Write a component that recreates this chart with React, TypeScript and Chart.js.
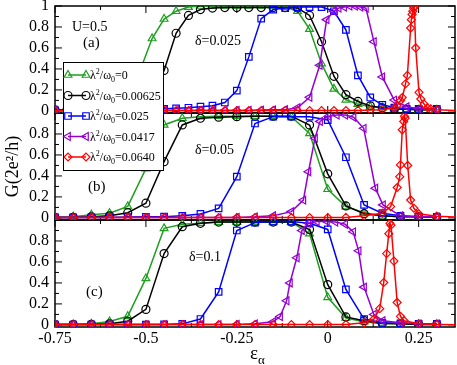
import React, { useEffect, useRef } from 'react';
import { Chart, registerables } from 'chart.js';

Chart.register(...registerables);

const FONT = '"Liberation Serif", "Times New Roman", serif';

// ---- axis ticks ----
const X_TICKS = [-0.75, -0.5, -0.25, 0, 0.25];
const Y_TICKS = [0, 0.2, 0.4, 0.6, 0.8, 1];
const X_MIN = -0.75;
const X_MAX = 0.35;
const Y_MIN = -0.02;
const Y_MAX = 1.0;

// ---- legend ----
const SERIES_VALUES = ['0', '0.00625', '0.025', '0.0417', '0.0640'];

// ---- panel (a), delta = 0.025 ----
const A_X = [-0.75, -0.717, -0.683, -0.65, -0.617, -0.583, -0.55, -0.517, -0.483, -0.45, -0.417, -0.383, -0.35, -0.317, -0.283, -0.25, -0.217, -0.183, -0.15, -0.117, -0.083, -0.05, -0.017, 0.017, 0.05, 0.083, 0.117, 0.15, 0.183, 0.217, 0.25, 0.3];
const A_GREEN = [0.01, 0.01, 0.01, 0.015, 0.02, 0.03, 0.12, 0.375, 0.69, 0.876, 0.95, 0.99, 1.0, 1.0, 1.0, 1.0, 1.0, 1.0, 1.0, 0.99, 0.95, 0.78, 0.45, 0.21, 0.106, 0.065, 0.04, 0.03, 0.02, 0.015, 0.01, 0.01];
const A_BLACK = [0.01, 0.01, 0.01, 0.01, 0.01, 0.015, 0.03, 0.06, 0.15, 0.386, 0.74, 0.91, 0.966, 0.98, 0.985, 0.985, 0.985, 0.985, 0.985, 0.985, 0.98, 0.91, 0.66, 0.33, 0.155, 0.09, 0.048, 0.03, 0.02, 0.015, 0.01, 0.01];
const A_BLUE = [0.005, 0.005, 0.005, 0.008, 0.01, 0.01, 0.012, 0.015, 0.018, 0.02, 0.025, 0.03, 0.04, 0.05, 0.08, 0.193, 0.515, 0.88, 0.966, 0.98, 0.99, 0.99, 0.99, 0.95, 0.773, 0.338, 0.128, 0.058, 0.032, 0.02, 0.02, 0.02];
const A_PURPLE_X = [-0.75, -0.717, -0.683, -0.65, -0.617, -0.583, -0.55, -0.517, -0.483, -0.45, -0.417, -0.383, -0.35, -0.317, -0.283, -0.25, -0.217, -0.183, -0.15, -0.117, -0.083, -0.05, -0.022, -0.003, 0.017, 0.03, 0.045, 0.06, 0.075, 0.09, 0.105, 0.127, 0.15, 0.183, 0.217, 0.25, 0.3];
const A_PURPLE = [0.005, 0.005, 0.005, 0.005, 0.005, 0.005, 0.005, 0.005, 0.005, 0.005, 0.005, 0.005, 0.005, 0.005, 0.005, 0.005, 0.005, 0.008, 0.01, 0.012, 0.03, 0.13, 0.435, 0.87, 0.95, 0.98, 0.99, 1.0, 1.0, 0.99, 0.98, 0.66, 0.324, 0.103, 0.04, 0.02, 0.01];
const A_RED_X = [-0.75, -0.717, -0.683, -0.65, -0.617, -0.583, -0.55, -0.517, -0.483, -0.45, -0.417, -0.383, -0.35, -0.317, -0.283, -0.25, -0.217, -0.183, -0.15, -0.117, -0.083, -0.05, -0.017, 0.017, 0.05, 0.083, 0.117, 0.15, 0.183, 0.19, 0.2, 0.205, 0.214, 0.219, 0.228, 0.23, 0.232, 0.234, 0.236, 0.238, 0.242, 0.251, 0.256, 0.265, 0.274, 0.283, 0.3, 0.4];
const A_RED = [0.003, 0.003, 0.003, 0.003, 0.003, 0.003, 0.003, 0.003, 0.003, 0.003, 0.003, 0.003, 0.003, 0.003, 0.003, 0.003, 0.003, 0.003, 0.003, 0.003, 0.003, 0.003, 0.003, 0.003, 0.003, 0.005, 0.008, 0.012, 0.03, 0.05, 0.097, 0.128, 0.258, 0.338, 0.79, 0.87, 0.92, 0.95, 0.98, 0.99, 0.6, 0.177, 0.113, 0.065, 0.03, 0.02, 0.01, 0.0];

// ---- panel (b), delta = 0.05 ----
const B_X = [-0.75, -0.7, -0.65, -0.6, -0.55, -0.5, -0.45, -0.4, -0.35, -0.3, -0.25, -0.2, -0.15, -0.1, -0.05, 0, 0.05, 0.1, 0.15, 0.2, 0.25, 0.3];
const B_GREEN = [0.008, 0.012, 0.03, 0.045, 0.11, 0.47, 0.886, 0.95, 0.965, 0.97, 0.97, 0.97, 0.97, 0.965, 0.806, 0.273, 0.108, 0.05, 0.02, 0.01, 0.01, 0.008];
const B_BLACK = [0.005, 0.005, 0.01, 0.02, 0.05, 0.14, 0.536, 0.886, 0.95, 0.96, 0.965, 0.97, 0.97, 0.97, 0.886, 0.42, 0.114, 0.04, 0.02, 0.01, 0.01, 0.008];
const B_BLUE = [0.005, 0.005, 0.005, 0.005, 0.008, 0.01, 0.012, 0.02, 0.038, 0.09, 0.393, 0.9, 0.965, 0.965, 0.965, 0.933, 0.578, 0.124, 0.045, 0.02, 0.01, 0.01];
const B_PURPLE_X = [-0.75, -0.7, -0.65, -0.6, -0.55, -0.5, -0.45, -0.4, -0.35, -0.3, -0.25, -0.2, -0.15, -0.1, -0.067, -0.053, -0.035, -0.021, 0.002, 0.025, 0.048, 0.071, 0.099, 0.131, 0.152, 0.2, 0.25, 0.3];
const B_PURPLE = [0.003, 0.003, 0.003, 0.003, 0.003, 0.003, 0.003, 0.003, 0.003, 0.003, 0.005, 0.01, 0.02, 0.06, 0.17, 0.44, 0.76, 0.92, 0.97, 0.98, 0.98, 0.96, 0.854, 0.283, 0.124, 0.02, 0.01, 0.01];
const B_RED_X = [-0.75, -0.7, -0.65, -0.6, -0.55, -0.5, -0.45, -0.4, -0.35, -0.3, -0.25, -0.2, -0.15, -0.1, -0.05, 0, 0.05, 0.1, 0.15, 0.173, 0.191, 0.198, 0.2, 0.205, 0.209, 0.211, 0.213, 0.22, 0.228, 0.237, 0.25, 0.3, 0.4];
const B_RED = [0.003, 0.003, 0.003, 0.003, 0.003, 0.003, 0.003, 0.003, 0.003, 0.003, 0.003, 0.003, 0.003, 0.003, 0.003, 0.003, 0.005, 0.02, 0.045, 0.108, 0.29, 0.393, 0.505, 0.84, 0.92, 0.97, 0.95, 0.5, 0.171, 0.092, 0.04, 0.015, 0.0];

// ---- panel (c), delta = 0.1 ----
const C_X = [-0.75, -0.7, -0.65, -0.6, -0.55, -0.5, -0.45, -0.4, -0.35, -0.3, -0.25, -0.2, -0.15, -0.1, -0.05, 0, 0.05, 0.1, 0.15, 0.2, 0.25, 0.3];
const C_GREEN = [0.005, 0.005, 0.01, 0.033, 0.082, 0.443, 0.92, 0.96, 0.97, 0.98, 0.98, 0.98, 0.98, 0.98, 0.87, 0.263, 0.066, 0.03, 0.01, 0.01, 0.005, 0.005];
const C_BLACK = [0.003, 0.003, 0.005, 0.01, 0.035, 0.148, 0.68, 0.936, 0.968, 0.98, 0.98, 0.98, 0.98, 0.98, 0.91, 0.384, 0.076, 0.04, 0.015, 0.01, 0.005, 0.005];
const C_BLUE = [0.003, 0.003, 0.003, 0.003, 0.003, 0.003, 0.005, 0.01, 0.056, 0.315, 0.9, 0.975, 0.985, 0.985, 0.968, 0.91, 0.338, 0.056, 0.02, 0.015, 0.01, 0.01];
const C_PURPLE_X = [-0.75, -0.7, -0.65, -0.6, -0.55, -0.5, -0.45, -0.4, -0.35, -0.3, -0.25, -0.2, -0.15, -0.131, -0.113, -0.104, -0.085, -0.071, -0.053, -0.03, -0.002, 0.021, 0.048, 0.07, 0.085, 0.1, 0.127, 0.151, 0.2, 0.25, 0.3];
const C_PURPLE = [0.003, 0.003, 0.003, 0.003, 0.003, 0.003, 0.003, 0.003, 0.003, 0.003, 0.005, 0.01, 0.03, 0.08, 0.23, 0.4, 0.64, 0.9, 0.968, 0.985, 0.985, 0.98, 0.96, 0.887, 0.706, 0.36, 0.1, 0.04, 0.02, 0.01, 0.01];
const C_RED_X = [-0.75, -0.7, -0.65, -0.6, -0.55, -0.5, -0.45, -0.4, -0.35, -0.3, -0.25, -0.2, -0.15, -0.1, -0.05, 0, 0.05, 0.1, 0.127, 0.143, 0.154, 0.162, 0.168, 0.171, 0.174, 0.182, 0.191, 0.2, 0.21, 0.25, 0.3, 0.4];
const C_RED = [0.003, 0.003, 0.003, 0.003, 0.003, 0.003, 0.003, 0.003, 0.003, 0.003, 0.003, 0.003, 0.003, 0.003, 0.003, 0.003, 0.005, 0.02, 0.056, 0.155, 0.404, 0.68, 0.87, 0.968, 0.95, 0.608, 0.214, 0.082, 0.04, 0.01, 0.005, 0.0];

const GREEN = '#1f9f1f';
const BLUE = '#0000ff';
const PURPLE = '#9400d3';
const RED = '#ff0000';
const BLACK = '#000000';

type Style = { color: string; pointStyle: string; rotation: number; radius: number; order: number };
const STYLES: Style[] = [
  { color: GREEN, pointStyle: 'triangle', rotation: 0, radius: 4.5, order: 5 },
  { color: BLACK, pointStyle: 'circle', rotation: 0, radius: 4, order: 4 },
  { color: BLUE, pointStyle: 'rect', rotation: 0, radius: 4.6, order: 3 },
  { color: PURPLE, pointStyle: 'triangle', rotation: -90, radius: 4.5, order: 2 },
  { color: RED, pointStyle: 'rectRot', rotation: 0, radius: 4, order: 1 },
];

const PANELS: { id: string; series: [number[], number[]][] }[] = [
  { id: 'ya', series: [[A_X, A_GREEN], [A_X, A_BLACK], [A_X, A_BLUE], [A_PURPLE_X, A_PURPLE], [A_RED_X, A_RED]] },
  { id: 'yb', series: [[B_X, B_GREEN], [B_X, B_BLACK], [B_X, B_BLUE], [B_PURPLE_X, B_PURPLE], [B_RED_X, B_RED]] },
  { id: 'yc', series: [[C_X, C_GREEN], [C_X, C_BLACK], [C_X, C_BLUE], [C_PURPLE_X, C_PURPLE], [C_RED_X, C_RED]] },
];

function drawMarker(ctx: CanvasRenderingContext2D, st: Style, x: number, y: number) {
  const r = st.radius;
  ctx.beginPath();
  if (st.pointStyle === 'circle') {
    ctx.arc(x, y, r, 0, Math.PI * 2);
  } else if (st.pointStyle === 'rect') {
    const s = r * Math.SQRT1_2;
    ctx.rect(x - s, y - s, 2 * s, 2 * s);
  } else if (st.pointStyle === 'rectRot') {
    ctx.moveTo(x - r, y);
    ctx.lineTo(x, y - r);
    ctx.lineTo(x + r, y);
    ctx.lineTo(x, y + r);
    ctx.closePath();
  } else {
    let a = (st.rotation * Math.PI) / 180;
    ctx.moveTo(x + Math.sin(a) * r, y - Math.cos(a) * r);
    a += (2 * Math.PI) / 3;
    ctx.lineTo(x + Math.sin(a) * r, y - Math.cos(a) * r);
    a += (2 * Math.PI) / 3;
    ctx.lineTo(x + Math.sin(a) * r, y - Math.cos(a) * r);
    ctx.closePath();
  }
  ctx.stroke();
}

const framePlugin = {
  id: 'frames',
  beforeDatasetsDraw(chart: any) {
    const ctx: CanvasRenderingContext2D = chart.ctx;
    const xs = chart.scales.x;
    ctx.save();
    ctx.strokeStyle = '#000';
    for (const p of PANELS) {
      const ys = chart.scales[p.id];
      const l = xs.left, r = xs.right, t = ys.top, b = ys.bottom;
      ctx.lineWidth = 1;
      ctx.beginPath();
      for (let k = 0; k <= 10; k++) {
        const py = ys.getPixelForValue(k / 10);
        const len = k % 2 === 0 ? 7 : 4;
        ctx.moveTo(l, py); ctx.lineTo(l + len, py);
        ctx.moveTo(r, py); ctx.lineTo(r - len, py);
      }
      for (let k = 0; k <= 8; k++) {
        const px = xs.getPixelForValue(X_MIN + k * 0.125);
        const len = k % 2 === 0 ? 7 : 4;
        ctx.moveTo(px, t); ctx.lineTo(px, t + len);
        ctx.moveTo(px, b); ctx.lineTo(px, b - len);
      }
      ctx.stroke();
      ctx.lineWidth = 1.5;
      ctx.strokeRect(l, t, r - l, b - t);
    }
    ctx.restore();
  },
  afterDatasetsDraw(chart: any) {
    const ctx: CanvasRenderingContext2D = chart.ctx;
    ctx.save();
    // legend box
    const bx = 63, by = 62, bw = 100, bh = 108;
    ctx.fillStyle = '#fff';
    ctx.fillRect(bx, by, bw, bh);
    ctx.strokeStyle = '#000';
    ctx.lineWidth = 1;
    ctx.strokeRect(bx + 0.5, by + 0.5, bw, bh);
    SERIES_VALUES.forEach((val, i) => {
      const st = STYLES[i];
      const cy = 75 + i * 20.5;
      ctx.strokeStyle = st.color;
      ctx.lineWidth = 1.5;
      ctx.beginPath(); ctx.moveTo(68, cy); ctx.lineTo(86, cy); ctx.stroke();
      ctx.lineWidth = 1.2;
      drawMarker(ctx, st, 68, cy);
      drawMarker(ctx, st, 86, cy);
      // label λ²/ω₀=val
      ctx.fillStyle = '#000';
      ctx.textAlign = 'left';
      ctx.textBaseline = 'alphabetic';
      let cx = 90;
      const base = cy + 4;
      const seg = (t: string, size: number, dy: number) => {
        ctx.font = `${size}px ${FONT}`;
        ctx.fillText(t, cx, base + dy);
        cx += ctx.measureText(t).width;
      };
      seg('λ', 12, 0);
      seg('2', 8, -5);
      seg('/ω', 12, 0);
      seg('0', 8, 3);
      seg('=' + val, 12, 0);
    });
    // annotations
    ctx.fillStyle = '#000';
    ctx.textAlign = 'left';
    ctx.textBaseline = 'middle';
    ctx.font = `14px ${FONT}`;
    ctx.fillText('U=0.5', 72, 27);
    ctx.fillText('δ=0.025', 195, 41);
    ctx.fillText('δ=0.05', 195, 150);
    ctx.fillText('δ=0.1', 189, 257);
    ctx.font = `15px ${FONT}`;
    ctx.fillText('(a)', 83, 43);
    ctx.fillText('(b)', 88, 187);
    ctx.fillText('(c)', 86, 292);
    // x axis title ε_α
    ctx.textBaseline = 'alphabetic';
    ctx.font = `19px ${FONT}`;
    ctx.fillText('ε', 250, 359);
    const w = ctx.measureText('ε').width;
    ctx.font = `13px ${FONT}`;
    ctx.fillText('α', 250 + w, 364);
    ctx.restore();
  },
};

function noPad(s: any) {
  s.paddingTop = 0;
  s.paddingBottom = 0;
  s.paddingLeft = 0;
  s.paddingRight = 0;
}

function yScale(hideTop: boolean, withTitle: boolean) {
  return {
    type: 'linear',
    position: 'left',
    stack: 'panels',
    stackWeight: 1,
    min: Y_MIN,
    max: Y_MAX,
    grid: { display: false, drawTicks: false },
    border: { display: false },
    afterBuildTicks: (s: any) => { s.ticks = Y_TICKS.map((v) => ({ value: v })); },
    afterFit: (s: any) => { s.width = 55; noPad(s); },
    ticks: {
      padding: 6,
      color: '#000',
      autoSkip: false,
      font: { family: FONT, size: 16 },
      callback: (v: any) => (hideTop && v === 1 ? '' : String(v)),
    },
    title: withTitle
      ? { display: true, text: 'G(2e²/h)', color: '#000', font: { family: FONT, size: 18 }, padding: { top: 2, bottom: 0 } }
      : { display: false },
  };
}

export default function App() {
  const ref = useRef<HTMLCanvasElement>(null);
  useEffect(() => {
    const datasets: any[] = [];
    PANELS.forEach((p) => {
      p.series.forEach(([xs, ys], i) => {
        const st = STYLES[i];
        datasets.push({
          label: `${p.id}-${SERIES_VALUES[i]}`,
          data: xs.map((x, j) => ({ x, y: ys[j] })),
          yAxisID: p.id,
          xAxisID: 'x',
          borderColor: st.color,
          backgroundColor: st.color,
          borderWidth: 1.5,
          pointStyle: st.pointStyle,
          rotation: st.rotation,
          pointRadius: st.radius,
          pointBorderWidth: 1.2,
          pointBorderColor: st.color,
          pointBackgroundColor: 'rgba(255,255,255,0)',
          tension: 0,
          fill: false,
          order: st.order,
        });
      });
    });
    const chart = new Chart(ref.current as HTMLCanvasElement, {
      type: 'line',
      data: { datasets },
      options: {
        animation: false,
        responsive: false,
        devicePixelRatio: 1,
        layout: { autoPadding: false, padding: { top: 6, right: 2, left: 0, bottom: 0 } },
        plugins: { legend: { display: false }, tooltip: { enabled: false } },
        scales: {
          x: {
            type: 'linear',
            position: 'bottom',
            min: X_MIN,
            max: X_MAX,
            grid: { display: false, drawTicks: false },
            border: { display: false },
            afterBuildTicks: (s: any) => { s.ticks = X_TICKS.map((v) => ({ value: v })); },
            afterFit: (s: any) => { s.height = 38; noPad(s); },
            ticks: {
              padding: 2,
              color: '#000',
              maxRotation: 0,
              autoSkip: false,
              font: { family: FONT, size: 16 },
              callback: (v: any) => String(v),
            },
          },
          yc: yScale(true, false),
          yb: yScale(true, true),
          ya: yScale(false, false),
        } as any,
      },
      plugins: [framePlugin],
    } as any);
    return () => chart.destroy();
  }, []);
  return (
    <div style={{ position: 'fixed', left: 0, top: 0, width: 457, height: 365, background: '#fff' }}>
      <canvas ref={ref} width={457} height={365} style={{ display: 'block', width: 457, height: 365 }} />
    </div>
  );
}
